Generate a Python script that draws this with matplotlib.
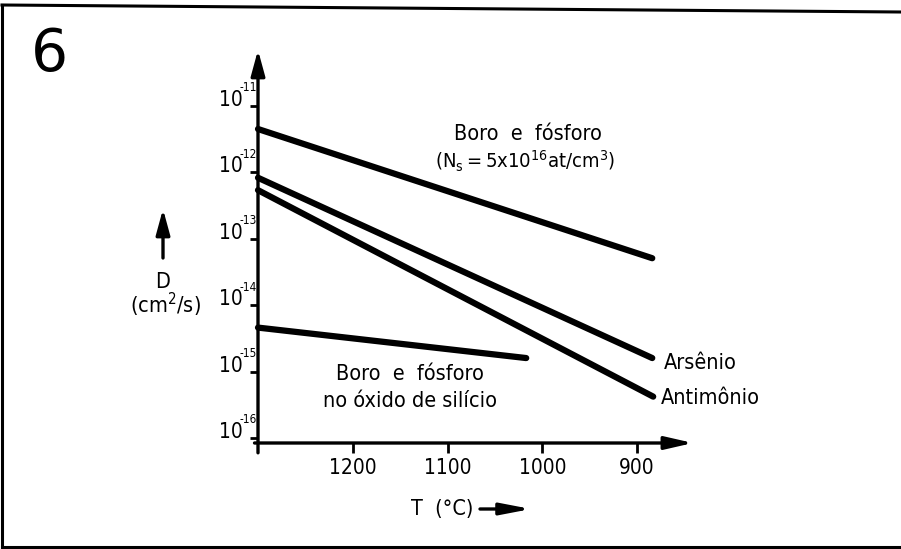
import matplotlib
matplotlib.use("Agg")
import matplotlib.pyplot as plt
from matplotlib.lines import Line2D
from matplotlib.patches import FancyArrowPatch

plt.rcParams['font.family'] = ['DejaVu Sans']
plt.rcParams['font.stretch'] = 'condensed'
plt.rcParams['mathtext.default'] = 'regular'

# ---- data ----
t_bp = [1300, 884]            # Boro e fósforo (Ns = 5x10^16)
d_bp = [4.5e-12, 5.1e-14]
t_as = [1300, 884]            # Arsênio
d_as = [8.3e-13, 1.6e-15]
t_sb = [1300, 883]            # Antimônio
d_sb = [5.4e-13, 4.2e-16]
t_ox = [1300, 1017]           # Boro e fósforo no óxido de silício
d_ox = [4.6e-15, 1.6e-15]

x_ticks = [1200, 1100, 1000, 900]
x_ticklabels = ['1200', '1100', '1000', '900']
y_ticks = [1e-16, 1e-15, 1e-14, 1e-13, 1e-12, 1e-11]
y_ticklabels = ['10', '10', '10', '10', '10', '10']
y_exponents = ['-16', '-15', '-14', '-13', '-12', '-11']

W, H = 901, 549
fig = plt.figure(figsize=(W / 100, H / 100), dpi=100)

def fx(px):
    return px / W

def fy(py):
    return 1 - py / H

ax = fig.add_axes([fx(258), fy(443), fx(693) - fx(258), fy(50) - fy(443)])
ax.set_yscale('log')
ax.set_xlim(1300, 841)
ax.set_ylim(10 ** -16.075, 10 ** -10.157)

lw = 4.5
for t, d in [(t_bp, d_bp), (t_as, d_as), (t_sb, d_sb), (t_ox, d_ox)]:
    ax.plot(t, d, color='black', lw=lw, solid_capstyle='round', clip_on=False)

for s in ['top', 'right', 'left', 'bottom']:
    ax.spines[s].set_visible(False)

# axes drawn as arrows
ax.add_artist(FancyArrowPatch((-0.008, 0), (1, 0), transform=ax.transAxes, clip_on=False,
                              arrowstyle='-|>,head_length=2.4,head_width=0.55',
                              lw=2.4, color='black', mutation_scale=7, shrinkA=0, shrinkB=0))
ax.add_artist(FancyArrowPatch((0, -0.025), (0, 1), transform=ax.transAxes, clip_on=False,
                              arrowstyle='-|>,head_length=2.2,head_width=0.6',
                              lw=2.4, color='black', mutation_scale=7, shrinkA=0, shrinkB=0))

ax.set_xticks(x_ticks)
ax.set_xticklabels(x_ticklabels, fontsize=15)
ax.set_yticks(y_ticks)
ax.set_yticklabels(y_ticklabels, fontsize=15)
ax.minorticks_off()
ax.tick_params(axis='x', direction='out', length=7, width=2, pad=4)
ax.tick_params(axis='y', direction='out', length=6, width=2, pad=4.8)
for lab in ax.get_yticklabels():
    lab.set_va('baseline')
for val, ex in zip(y_ticks, y_exponents):
    ax.annotate(ex, xy=(0, val), xycoords=('axes fraction', 'data'),
                xytext=(-13.2, 10.5), textcoords='offset points',
                ha='left', va='baseline', fontsize=8.5, annotation_clip=False)

# annotations
fs = 15.5
fig.text(fx(528), fy(134), 'Boro  e  fósforo', ha='center', va='center', fontsize=fs)
fig.text(fx(525), fy(161), r'$\mathregular{(N_s=5x10^{16}at/cm^3)}$', ha='center', va='center', fontsize=14.5)
fig.text(fx(664), fy(363), 'Arsênio', ha='left', va='center', fontsize=fs)
fig.text(fx(661), fy(398), 'Antimônio', ha='left', va='center', fontsize=fs)
fig.text(fx(410), fy(374), 'Boro  e  fósforo', ha='center', va='center', fontsize=fs)
fig.text(fx(410), fy(401), 'no óxido de silício', ha='center', va='center', fontsize=fs)

fig.text(fx(163), fy(288), 'D', ha='center', va='baseline', fontsize=fs)
fig.text(fx(165), fy(313), r'$\mathregular{(cm^2/s)}$', ha='center', va='baseline', fontsize=fs)
fig.add_artist(FancyArrowPatch(
    (fx(163), fy(258)), (fx(163), fy(209)), transform=fig.transFigure,
    arrowstyle='-|>,head_length=2.2,head_width=0.6', lw=2.4, color='black',
    mutation_scale=7, shrinkA=0, shrinkB=0))

fig.text(fx(442), fy(509), 'T  (°C)', ha='center', va='center', fontsize=fs)
fig.add_artist(FancyArrowPatch(
    (fx(480), fy(509)), (fx(531), fy(509)), transform=fig.transFigure,
    arrowstyle='-|>,head_length=2.6,head_width=0.5', lw=2.4, color='black',
    mutation_scale=7, shrinkA=0, shrinkB=0))

fig.text(fx(49), fy(55), '6', ha='center', va='center', fontsize=42,
         family='DejaVu Sans', fontstretch='normal', fontweight='normal')

# scanned frame
for (x0, y0, x1, y1) in [(2, 5, 901, 12), (2, 5, 2, 547), (2, 547, 901, 547)]:
    fig.add_artist(Line2D([fx(x0), fx(x1)], [fy(y0), fy(y1)], color='black', lw=2.2,
                          transform=fig.transFigure))

fig.savefig('out.png', dpi=100)
